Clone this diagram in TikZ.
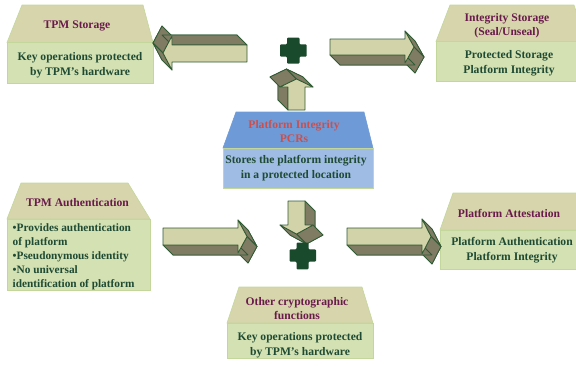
\documentclass[tikz,border=0pt]{standalone}
\usepackage{fontspec}
\setmainfont{Liberation Serif}
\usetikzlibrary{calc}

\definecolor{capfill}{HTML}{D6D5AB}
\definecolor{bodyfill}{HTML}{D3E1B3}
\definecolor{boxline}{HTML}{C3D79B}
\definecolor{pcrcap}{HTML}{6E9BD8}
\definecolor{pcrbody}{HTML}{9FBCE4}
\definecolor{titletext}{HTML}{6A1A4C}
\definecolor{bodytext}{HTML}{1F4A33}
\definecolor{pcrtitle}{HTML}{C9504E}
\definecolor{arrlight}{HTML}{D3D3A9}
\definecolor{arrdark}{HTML}{807B63}
\definecolor{arredge}{HTML}{2F5B34}
\definecolor{plusgreen}{HTML}{184A2B}

\tikzset{
  capbox/.style={fill=capfill, draw=boxline, line width=0.6pt},
  bodybox/.style={fill=bodyfill, draw=boxline, line width=0.6pt},
  captext/.style={font=\bfseries\fontsize{11.6}{14}\selectfont, text=titletext, align=center, inner sep=0pt},
  maintext/.style={font=\bfseries\fontsize{11.6}{15}\selectfont, text=bodytext, align=center, inner sep=0pt},
  arrface/.style={fill=arrlight, draw=arredge, line width=0.8pt, line join=round},
  arrside/.style={fill=arrdark, draw=arredge, line width=0.8pt, line join=round},
  plussign/.style={fill=plusgreen, rounded corners=1pt}
}

% back face of a 3D block arrow, shifted by the extrusion offset
\newcommand\backface[2]{\filldraw[arrside,shift={#1}] #2 -- cycle;}

\begin{document}
\begin{tikzpicture}[x=1pt,y=-1pt]
\useasboundingbox (0,0) rectangle (576,365);
\clip (0,0) rectangle (576,365);

% ---------- boxes ----------
% TPM Storage
\filldraw[capbox] (22,5) -- (143,5) -- (153,42.5) -- (7,42.5) -- cycle;
\filldraw[bodybox] (7,42.5) rectangle (153,83.5);
\node[captext] (tsT) at (77,26) {TPM Storage};
\node[maintext] (tsB) at (80,65) {Key operations protected\\by TPM's hardware};

% Integrity Storage
\filldraw[capbox] (450,5) -- (574,5) -- (586,41.5) -- (436,41.5) -- cycle;
\filldraw[bodybox] (436,41.5) rectangle (586,81);
\node[captext] (isT) at (507,25.5) {Integrity Storage\\(Seal/Unseal)};
\node[maintext] (isB) at (509,63.5) {Protected Storage\\Platform Integrity};

% Platform Integrity PCRs
\filldraw[fill=pcrcap, draw=pcrcap, line width=0.6pt] (236,112) -- (364,112) -- (373,148) -- (223,148) -- cycle;
\filldraw[fill=pcrbody, draw=boxline, line width=0.6pt] (223,148) rectangle (373,188);
\node[captext, text=pcrtitle] (pcT) at (294,131) {Platform Integrity\\PCRs};
\node[maintext] (pcB) at (296,168.5) {Stores the platform integrity\\in a protected location};

% TPM Authentication
\filldraw[capbox] (21,183) -- (128,183) -- (150,219) -- (7,219) -- cycle;
\filldraw[bodybox] (7,219) rectangle (150,290);
\node[captext] (taT) at (77.5,202.5) {TPM Authentication};
\node[maintext, align=left, anchor=west, font=\bfseries\fontsize{11.3}{13.9}\selectfont] (taB) at (12.5,256.5)
  {\textbullet Provides authentication\\of platform\\\textbullet Pseudonymous identity\\\textbullet No universal\\identification of platform};

% Platform Attestation
\filldraw[capbox] (453,193) -- (590,193) -- (600,230) -- (440,230) -- cycle;
\filldraw[bodybox] (440,230) rectangle (584,269);
\node[captext] (paT) at (509,213.5) {Platform Attestation};
\node[maintext] (paB) at (512,250.5) {Platform Authentication\\Platform Integrity};

% Other cryptographic functions
\filldraw[capbox] (239,287) -- (362,287) -- (373,323) -- (227,323) -- cycle;
\filldraw[bodybox] (227,323) rectangle (373,358);
\node[captext] (ocT) at (297,308.5) {Other cryptographic\\functions};
\node[maintext] (ocB) at (300,345) {Key operations protected\\by TPM's hardware};

% ---------- block arrows ----------
% towards TPM Storage (left)
\backface{(-10,-10)}{(163,53) -- (172,36) -- (172,45) -- (247,45) -- (247,62) -- (172,62) -- (172,70)}
\filldraw[arrside] (163,53) -- (172,36) -- (162,26) -- (153,43) -- cycle;
\filldraw[arrside] (172,45) -- (247,45) -- (237,35) -- (162,35) -- cycle;
\filldraw[arrside] (172,70) -- (163,53) -- (153,43) -- (162,60) -- cycle;
\filldraw[arrface] (163,53) -- (172,36) -- (172,45) -- (247,45) -- (247,62) -- (172,62) -- (172,70) -- cycle;

% towards Integrity Storage (right)
\backface{(10,10)}{(330,39) -- (405,39) -- (405,31) -- (414,47) -- (405,63) -- (405,55) -- (330,55)}
\filldraw[arrside] (405,31) -- (414,47) -- (424,57) -- (415,41) -- cycle;
\filldraw[arrside] (414,47) -- (405,63) -- (415,73) -- (424,57) -- cycle;
\filldraw[arrside] (405,55) -- (330,55) -- (340,65) -- (415,65) -- cycle;
\filldraw[arrface] (330,39) -- (405,39) -- (405,31) -- (414,47) -- (405,63) -- (405,55) -- (330,55) -- cycle;

% up from the PCRs
\backface{(-10,-10)}{(288,110) -- (288,87) -- (280,87) -- (296.5,79) -- (313,87) -- (305,87) -- (305,110)}
\filldraw[arrside] (288,110) -- (288,87) -- (278,77) -- (278,100) -- cycle;
\filldraw[arrside] (280,87) -- (296.5,79) -- (286.5,69) -- (270,77) -- cycle;
\filldraw[arrside] (296.5,79) -- (313,87) -- (303,77) -- (286.5,69) -- cycle;
\filldraw[arrface] (288,110) -- (288,87) -- (280,87) -- (296.5,79) -- (313,87) -- (305,87) -- (305,110) -- cycle;

% down from the PCRs
\backface{(10,10)}{(288,201) -- (305,201) -- (305,225) -- (313,225) -- (296.5,234) -- (280,225) -- (288,225)}
\filldraw[arrside] (305,201) -- (305,225) -- (315,235) -- (315,211) -- cycle;
\filldraw[arrside] (313,225) -- (296.5,234) -- (306.5,244) -- (323,235) -- cycle;
\filldraw[arrside] (296.5,234) -- (280,225) -- (290,235) -- (306.5,244) -- cycle;
\filldraw[arrface] (288,201) -- (305,201) -- (305,225) -- (313,225) -- (296.5,234) -- (280,225) -- (288,225) -- cycle;

% from TPM Authentication
\backface{(10,10)}{(163,228) -- (238,228) -- (238,220) -- (247,236.5) -- (238,253) -- (238,245) -- (163,245)}
\filldraw[arrside] (238,220) -- (247,236.5) -- (257,246.5) -- (248,230) -- cycle;
\filldraw[arrside] (247,236.5) -- (238,253) -- (248,263) -- (257,246.5) -- cycle;
\filldraw[arrside] (238,245) -- (163,245) -- (173,255) -- (248,255) -- cycle;
\filldraw[arrface] (163,228) -- (238,228) -- (238,220) -- (247,236.5) -- (238,253) -- (238,245) -- (163,245) -- cycle;

% towards Platform Attestation
\backface{(10,10)}{(347,228) -- (422,228) -- (422,219) -- (431,236.5) -- (422,254) -- (422,245) -- (347,245)}
\filldraw[arrside] (422,219) -- (431,236.5) -- (441,246.5) -- (432,229) -- cycle;
\filldraw[arrside] (431,236.5) -- (422,254) -- (432,264) -- (441,246.5) -- cycle;
\filldraw[arrside] (422,245) -- (347,245) -- (357,255) -- (432,255) -- cycle;
\filldraw[arrface] (347,228) -- (422,228) -- (422,219) -- (431,236.5) -- (422,254) -- (422,245) -- (347,245) -- cycle;

% ---------- plus signs ----------
\fill[plussign] (287,37.5) -- (299.5,37.5) -- (299.5,44.3) -- (306.7,44.3) -- (306.7,56.7) -- (299.5,56.7)
  -- (299.5,63.5) -- (287,63.5) -- (287,56.7) -- (280,56.7) -- (280,44.3) -- (287,44.3) -- cycle;
\fill[plussign] (296.5,242.7) -- (308.5,242.7) -- (308.5,249.3) -- (316,249.3) -- (316,261.7) -- (308.5,261.7)
  -- (308.5,269.3) -- (296.5,269.3) -- (296.5,261.7) -- (289.5,261.7) -- (289.5,249.3) -- (296.5,249.3) -- cycle;
\end{tikzpicture}
\end{document}
